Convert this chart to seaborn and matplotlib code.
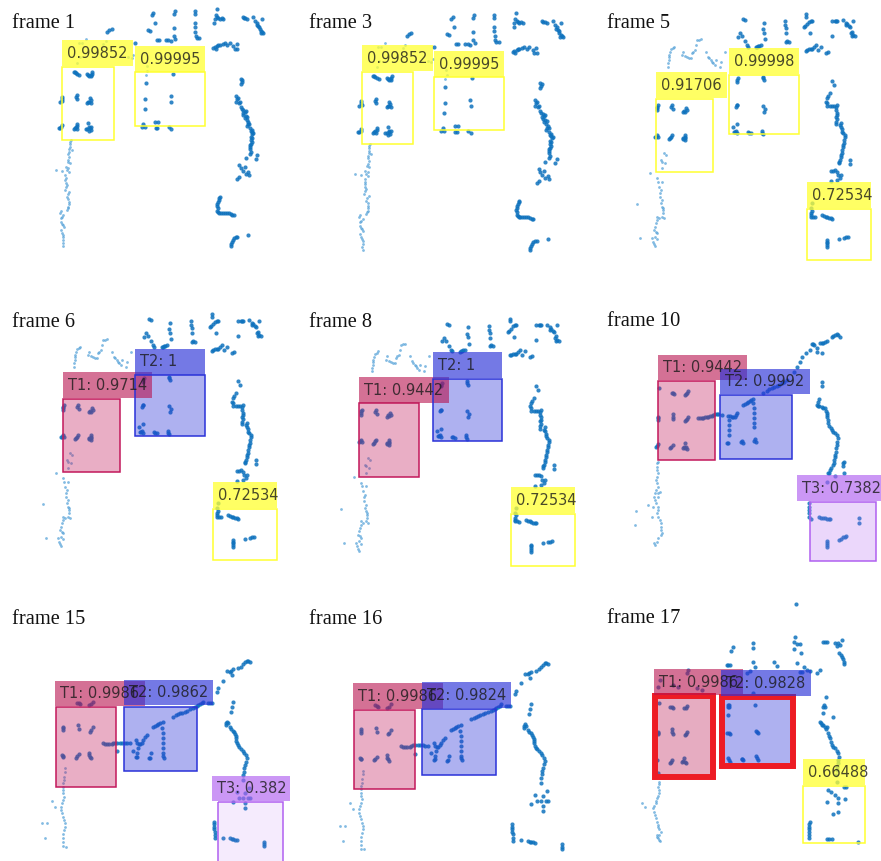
import matplotlib
matplotlib.use("Agg")
import matplotlib.pyplot as plt
from matplotlib.patches import Rectangle
import pandas as pd
import seaborn as sns

### Point clouds (units: 1/3 pixel inside each panel)
cloud_a_dark = [(460,38),(456,46),(525,33),(522,42),(584,32),(585,42),(650,26),(648,46),(645,58),(643,68),(655,55),(665,55),(670,56),
    (465,70),(522,85),(584,68),(585,82),(586,96),(588,108),(590,115),(598,115),(444,90),(450,93),(470,121),(476,121),(497,119),(505,120),(512,122),(522,108),(526,116),
    (728,52),(736,54),(742,56),(760,52),(766,62),(772,68),(786,58),(770,75),(778,82),(784,92),(790,100),(782,100),
    (645,140),(652,138),(660,135),(668,133),(675,130),(682,135),(690,130),(710,132),(705,148),(712,148),(648,146),
    (322,97),(328,91),(335,88),(405,130),
    (225,217),(232,223),(238,224),(265,225),(272,226),(277,215),(230,285),(231,298),(186,290),(187,303),(180,305),(265,305),(272,300),(262,308),
    (225,385),(232,378),(230,386),(262,388),(268,380),(272,390),(265,370),(180,384),(185,375),
    (518,222),(437,248),(436,297),(514,305),(512,287),(434,328),(430,372),(426,380),(434,380),(466,367),(475,366),(468,384),(472,384),(506,380),(514,386),
    (722,238),(727,240),(722,252),(708,288),(714,295),(708,305),(720,305),(722,322),(730,330),(738,332),(730,345),(742,350),(735,355),(745,365),(740,378),(750,385),(755,395),(760,398),(752,410),(755,425),(750,440),(752,455),(750,435),
    (772,465),(768,478),(738,475),(718,495),(722,505),(735,500),(745,515),(728,512),(738,522),(748,525),(718,530),(712,537),
    (660,590),(656,600),(652,612),(654,625),(655,637),(662,640),(668,640),(680,638),(686,640),(692,642),(702,646),
    (712,710),(702,715),(695,725),(692,738),(745,706),
    (222,215),(228,220),(262,222),(268,228),(276,222),(274,228),(228,292),(186,297),(270,295),(274,308),(268,305),(222,388),(228,382),(232,372),(258,388),(266,392),(270,385),(274,382),(184,380),(176,385),
    (725,245),(710,298),(716,310),(726,328),(734,335),(728,338),(738,348),(740,360),(748,372),(744,372),(752,392),(757,402),(755,415),(752,420),(753,432),(750,448),(749,462),(755,390),
    (658,595),(653,606),(651,618),(652,632),(658,640),(674,640),(697,645),(708,712),(698,720),(693,732),
    (652,52),(660,57),(775,78),(780,88),(787,96),(732,53),(655,135),(640,145),(700,138)]
cloud_a_light = [(258,118),(245,128),(237,130),(310,132),(318,122),(385,170),(395,175),(400,165),(240,170),(232,188),(440,198),(442,213),(437,225),
    (212,420),(210,432),(208,448),(205,462),(215,450),(205,480),(210,490),(198,500),(207,515),(196,525),(168,510),(185,513),(196,540),(200,555),(195,570),(208,575),(200,590),(207,605),(205,620),(200,630),
    (183,632),(190,645),(183,655),(185,672),(192,680),(183,690),(188,705),(190,720),(190,738),
    (210,425),(206,455),(208,470),(203,487),(205,505),(200,510),(198,533),(198,548),(197,562),(203,582),(205,598),(207,612),(203,625),(180,640),(186,650),(182,665),(188,676),(186,698),(190,712),(188,730),(210,440)]

cloud_b_dark = [(448,57),(452,60),(511,68),(573,64),(574,75),(575,85),(575,100),(636,42),(636,50),(655,62),(645,65),(638,72),(630,82),(648,98),
    (714,62),(722,62),(730,62),(748,60),(755,68),(778,62),(760,72),(768,82),(770,100),(775,108),(783,108),(715,107),
    (508,88),(510,98),(513,118),(580,122),(586,125),(575,125),(438,100),(432,110),(443,108),(453,123),(458,135),(463,140),(485,142),(492,138),(500,135),
    (635,152),(645,148),(655,147),(665,135),(672,150),(682,140),(695,158),(702,155),
    (190,320),(188,330),(234,315),(236,328),(270,332),(276,325),(268,336),(190,405),(182,412),(228,415),(235,405),(268,415),(272,405),(274,420),
    (432,235),(430,245),(506,230),(510,240),(428,315),(506,318),(512,328),(510,337),(418,380),(428,372),(422,395),(428,398),(465,398),(470,400),(503,392),(508,402),
    (715,243),(720,255),(708,280),(700,295),(698,310),(700,318),(715,318),(728,315),(725,330),(730,345),(728,358),(725,372),(740,368),(742,380),(745,395),(752,405),(750,420),(748,435),(745,450),(742,465),(738,480),(735,490),
    (767,480),(768,492),(712,512),(722,510),(728,515),(742,525),(738,535),(730,540),(710,543),
    (655,610),(652,625),(650,640),(656,650),(662,652),(685,645),(695,650),(705,655),(715,656),(700,720),(698,730),(700,742),(734,716),(750,713),(762,710),
    (188,325),(192,315),(232,322),(272,335),(278,330),(186,410),(192,412),(232,410),(225,418),(266,418),(272,412),(274,415),(430,240),(508,235),(430,315),(425,320),(420,395),(425,392),(505,398),(462,396),
    (703,288),(696,305),(708,318),(720,318),(727,322),(728,338),(727,350),(727,365),(738,375),(743,388),(748,400),(752,412),(750,428),(747,442),(744,458),(740,472),(736,485),(716,512),(733,525),
    (653,632),(650,645),(652,650),(690,648),(700,652),(710,655),(699,725),(699,736),(755,712),
    (650,62),(634,78),(725,62),(765,78),(773,95),(778,105),(640,150),(650,147),(660,142),(488,140),(495,137),(755,75)]
cloud_b_light = [(240,140),(232,148),(226,165),(224,180),(222,200),(268,155),(265,165),(278,172),(290,175),(295,160),(302,150),(305,135),(310,120),(320,118),
    (335,155),(342,170),(350,180),(358,190),(365,180),(362,195),(380,185),(378,200),(392,155),
    (210,460),(215,465),(205,485),(212,490),(200,480),(205,505),(190,535),(205,545),(195,560),(198,578),(205,600),(200,610),(208,625),(205,650),(190,650),(185,670),(180,690),(188,700),(175,715),(182,738),
    (168,518),(128,612),(138,715),(190,718),(207,630),(210,655),
    (192,545),(200,570),(198,590),(203,620),(207,640),(195,655),(188,660),(183,680),(185,695),(182,710),(178,725),(180,732),
    (236,144),(229,156),(225,172),(223,190),(272,168),(284,174),(298,155),(315,119),(346,175),(354,185)]

cloud_c_dark = [(750,110),(740,103),(730,108),(712,122),(700,128),(690,130),(680,145),(672,135),(665,133),(660,150),(648,158),(695,158),(680,155),(635,170),(630,185),(622,200),(612,215),
    (590,240),(582,245),(575,250),(567,254),(560,258),(552,262),(545,265),(537,268),(530,272),(520,280),
    (697,245),(696,258),(686,296),(680,315),(688,318),(695,322),(705,325),(710,340),(712,352),(715,370),(722,385),(730,395),(742,405),(742,425),(738,445),(735,465),(733,480),(728,495),(720,510),(715,518),
    (762,485),(758,498),(762,520),(735,528),(710,545),
    (657,610),(656,630),(658,650),(664,658),(688,652),(700,654),(712,656),(720,658),(806,655),(807,668),(712,722),(710,735),(712,742),(748,720),(760,712),(768,708),
    (208,265),(245,278),(252,282),(285,284),(295,272),(205,350),(203,360),(248,342),(250,358),(285,362),(295,352),(197,440),(205,432),(240,445),(248,435),(280,445),(285,430),(290,448),
    (325,355),(335,355),(345,352),(355,350),(365,347),(375,343),(385,343),(395,346),(415,347),(425,350),(435,350),(442,340),
    (460,315),(470,308),(480,302),(488,298),(490,310),(491,325),(491,340),(492,355),(492,370),(492,380),
    (418,360),(418,375),(417,390),(417,405),(415,430),(455,422),(458,428),(495,418),(498,425),
    (248,280),(288,282),(292,280),(205,355),(248,350),(288,360),(292,358),(200,438),(244,442),(283,440),(288,440),(285,445),(412,430),(452,425),(493,422),
    (330,355),(340,353),(350,351),(360,348),(370,345),(380,343),(420,349),(430,351),(438,345),(465,311),(475,305),(484,300),
    (683,305),(684,318),(700,325),(708,332),(712,345),(713,360),(718,378),(726,390),(736,400),(744,415),(741,435),(737,455),(734,472),(731,488),(724,503),(716,520),(758,490),
    (656,620),(657,640),(694,653),(706,655),(716,657),(711,728),(754,716),(764,710),
    (745,105),(735,104),(725,110),(705,125),(695,128),(668,133)]
cloud_c_light = [(203,485),(200,500),(203,520),(198,540),(205,560),(195,580),(210,575),(195,600),(205,620),(190,620),(200,640),(210,660),(212,680),(215,700),(205,715),(195,735),
    (138,632),(135,676),(175,615),(185,650),
    (200,490),(201,510),(202,530),(200,550),(197,570),(203,590),(198,610),(203,630),(205,650),(212,670),(213,690),(213,705),(200,725),(192,730),(205,580),(192,590)]

cloud_d_dark = [(750,215),(740,212),(730,222),(715,235),(700,238),(690,245),(680,243),(697,255),(668,272),(655,295),(650,305),(636,340),(625,340),(610,335),(600,343),(592,348),(585,352),(578,355),(570,358),(562,362),(555,365),(547,368),(540,370),(534,373),(528,375),(518,380),
    (488,397),(481,400),(475,402),(465,408),(458,412),
    (698,335),(696,350),(694,365),(680,395),(678,405),(690,412),(698,422),(705,432),(708,445),(710,460),(718,470),(728,482),(738,495),(738,515),(732,535),(730,555),(730,570),
    (712,607),(700,635),(735,610),(748,595),(750,625),(730,625),(718,625),(745,625),(735,640),(736,655),
    (642,695),(642,710),(644,725),(645,745),(668,743),(690,745),(700,748),(710,750),(793,755),(792,768),
    (232,338),(240,342),(268,345),(278,335),(190,410),(188,420),(235,405),(236,418),(270,425),(278,412),(185,495),(190,500),(228,503),(236,492),(268,495),(272,505),(268,488),
    (310,460),(320,463),(335,462),(345,458),(360,458),(375,458),(390,460),(350,483),(408,450),(412,460),(420,462),(430,450),(440,435),
    (415,475),(412,490),(408,502),(400,482),(487,415),(488,430),(488,445),(488,460),(488,475),(488,490),(492,503),(448,505),(453,490),
    (685,400),(694,417),(702,427),(707,438),(709,452),(713,465),(722,476),(733,488),(740,505),(736,525),(731,545),(679,400),
    (745,212),(735,216),(722,230),(693,242),(605,340),(630,340),(595,346),
    (315,462),(327,463),(340,460),(352,458),(367,458),(382,459),(416,462),(425,458),(435,442),(470,405),
    (236,340),(272,342),(189,415),(274,420),(188,498),(232,498),(270,500),(410,500),(450,503),(490,497),
    (642,702),(643,717),(644,735),(695,747),(705,749),(792,762)]
cloud_d_light = [(195,535),(192,560),(190,580),(188,600),(192,620),(185,640),(182,660),(190,680),(195,700),(192,720),(190,745),(188,768),(198,770),(155,632),(165,650),(125,700),(140,700),(135,745),
    (194,545),(193,570),(189,590),(190,610),(188,630),(183,650),(186,670),(193,690),(194,710),(190,732),(189,757)]

cloud_e_dark = [(617,43),(614,142),(612,155),(620,162),(630,162),(612,178),(632,188),(428,170),(424,183),(490,160),(490,175),(700,155),(712,155),(735,158),(742,168),(757,150),(750,165),(748,190),(755,200),(762,215),(763,222),
    (410,224),(420,225),(490,215),(495,232),(553,215),(560,228),(622,220),(642,232),(660,243),(630,245),(680,248),(690,240),
    (295,240),(290,250),(470,248),(480,244),(210,270),(205,290),(250,285),(265,290),(320,295),(335,300),(490,310),
    (207,338),(240,350),(250,353),(283,355),(292,348),(205,425),(203,432),(245,418),(248,432),(285,435),(290,425),(202,510),(240,518),(246,510),(275,515),(282,505),(287,520),(205,548),
    (416,345),(414,350),(496,345),(414,375),(412,430),(420,432),(497,422),(503,428),(415,505),(420,515),(455,508),(460,510),(497,498),(503,510),
    (708,320),(702,345),(706,352),(698,370),(730,380),(690,395),(695,405),(710,410),(715,430),(720,445),(725,465),(735,475),(745,490),(745,510),(742,530),(738,555),(740,575),
    (715,600),(722,605),(767,592),(762,590),(735,615),(745,625),(712,635),(765,628),(745,640),(745,665),(730,672),
    (660,695),(656,710),(656,725),(658,745),(712,746),(725,748),(805,755),
    (245,352),(288,353),(204,428),(246,425),(288,432),(243,515),(280,512),(285,515),(418,350),(416,430),(500,425),(418,510),(457,508),(500,505),(413,345),
    (692,400),(700,405),(708,418),(718,438),(722,455),(730,470),(740,483),(746,500),(744,520),(740,540),(700,350),(705,412),
    (658,702),(656,718),(657,735),(716,746),(706,155),(745,160),(752,195),(758,208),(415,224),(635,245),(650,240)]
cloud_e_light = [(208,575),(205,590),(208,610),(200,625),(197,640),(190,655),(195,675),(200,695),(205,712),(212,725),(205,745),(210,752),(155,640),(165,650),
    (207,582),(206,600),(203,618),(198,632),(193,648),(192,665),(197,685),(203,704),(208,718),(208,735),(207,750),(200,735),(202,742)]

# kind, box (x0, y0, x1, y1), label band (x0, y0, x1, y1), text
boxes_1 = [("Y", (187,200,342,420), (187,120,400,197), "0.99852"), ("Y", (405,217,615,377), (405,138,615,217), "0.99995")]
boxes_3 = [("Y", (194,215,348,433), (194,135,407,212), "0.99852"), ("Y", (412,232,622,391), (412,152,622,232), "0.99995")]
boxes_5 = [("Y", (187,296,356,515), (187,216,400,293), "0.91706"), ("Y", (404,224,614,402), (404,145,614,222), "0.99998"),
    ("Y", (640,626,832,781), (640,546,832,625), "0.72534")]
boxes_6 = [("T1", (188,296,359,517), (188,217,456,294), "T1: 0.9714"), ("T2", (405,224,615,407), (405,146,615,224), "T2: 1"),
    ("Y", (640,627,832,781), (640,547,832,625), "0.72534")]
boxes_8 = [("T1", (187,310,366,531), (187,231,456,308), "T1: 0.9442"), ("T2", (408,236,616,424), (408,156,616,234), "T2: 1"),
    ("Y", (642,641,835,797), (642,562,835,640), "0.72534")]
boxes_10 = [("T1", (203,242,374,481), (203,164,471,240), "T1: 0.9442"), ("T2", (391,286,605,477), (391,206,659,283), "T2: 0.9992"),
    ("T3", (661,605,857,782), (622,526,873,603), "T3: 0.7382")]
boxes_15 = [("T1", (167,352,349,590), (166,273,436,349), "T1: 0.9986"), ("T2", (373,350,590,544), (372,269,640,346), "T2: 0.9862"),
    ("T3low", (654,635,850,830), (635,557,875,633), "T3: 0.382")]
boxes_16 = [("T1", (170,360,355,597), (169,280,438,357), "T1: 0.9986"), ("T2", (376,356,597,554), (375,277,643,353), "T2: 0.9824")]
boxes_17 = [("T1x", (194,317,370,561), (192,238,460,315), "T1: 0.9986"), ("T2x", (395,320,608,529), (393,240,663,318), "T2: 0.9828"),
    ("Y", (640,587,825,760), (640,508,825,585), "0.66488")]

# name, panel left/top/width/height in pixels, title spot, points, shift of points, boxes
frames = [
    ("frame 1", (0,0,290,280), (35,85), cloud_a_dark, cloud_a_light, (0,0), boxes_1),
    ("frame 3", (297,0,290,280), (36,85), cloud_a_dark, cloud_a_light, (7,12), boxes_3),
    ("frame 5", (594,0,287,280), (38,85), cloud_b_dark, cloud_b_light, (0,0), boxes_5),
    ("frame 6", (0,300,290,280), (35,80), cloud_b_dark, cloud_b_light, (0,0), boxes_6),
    ("frame 8", (297,300,290,280), (36,80), cloud_b_dark, cloud_b_light, (3,14), boxes_8),
    ("frame 10", (590,300,291,280), (50,78), cloud_c_dark, cloud_c_light, (0,0), boxes_10),
    ("frame 15", (0,590,290,271), (35,103), cloud_d_dark, cloud_d_light, (0,0), boxes_15),
    ("frame 16", (297,590,290,271), (36,103), cloud_d_dark, cloud_d_light, (3,8), boxes_16),
    ("frame 17", (590,590,291,271), (50,100), cloud_e_dark, cloud_e_light, (0,0), boxes_17),
]

# edge colour, fill alpha, band colour, band alpha
estilos = {
    "Y": ("#ffff30", 0.0, "#ffff30", 0.75),
    "T1": ("#c2185b", 0.35, "#b8124f", 0.6),
    "T2": ("#2a32d8", 0.38, "#2a32d8", 0.65),
    "T3": ("#b060f0", 0.25, "#b060f0", 0.65),
    "T3low": ("#b060f0", 0.12, "#b060f0", 0.65),
    "T1x": ("#ed1c24", 0.35, "#b8124f", 0.6),
    "T2x": ("#ed1c24", 0.38, "#2a32d8", 0.65),
}
preenchimento = {"T1x": "#b8124f", "T2x": "#2a32d8"}

sns.set_theme(style="white")
plt.rcParams["font.family"] = ["DejaVu Sans"]

W, H = 881, 861
fig = plt.figure(figsize=(W / 100, H / 100), dpi=100, facecolor="white")

for nome, (esq, topo, larg, alt), (tx, ty), dark, light, (dx, dy), caixas in frames:
    ax = fig.add_axes([esq / W, 1 - (topo + alt) / H, larg / W, alt / H])
    escuro = pd.DataFrame(dark, columns=["x", "y"]) + (dx, dy)
    claro = pd.DataFrame(light, columns=["x", "y"]) + (dx, dy)
    sns.scatterplot(data=claro, x="x", y="y", s=4, color="#4f9ed6", alpha=0.7, linewidth=0, ax=ax, zorder=1)
    sns.scatterplot(data=escuro, x="x", y="y", s=9, color="#0f72bd", alpha=0.85, linewidth=0, ax=ax, zorder=1)
    ax.set_xlim(0, larg * 3)
    ax.set_ylim(alt * 3, 0)
    ax.set_axis_off()
    ax.text(tx, ty, nome, family="Liberation Serif", fontsize=14.7, color="#111111", va="baseline", ha="left")
    for tipo, (x0, y0, x1, y1), (bx0, by0, bx1, by1), texto in caixas:
        borda, alfa, banda, alfa_banda = estilos[tipo]
        grossa = tipo.endswith("x")
        cor_fundo = preenchimento.get(tipo, borda)
        if alfa > 0:
            ax.add_patch(Rectangle((x0, y0), x1 - x0, y1 - y0, facecolor=cor_fundo, edgecolor="none", alpha=alfa, zorder=2))
        ax.add_patch(Rectangle((x0, y0), x1 - x0, y1 - y0, fill=False, edgecolor=borda,
                               linewidth=4.3 if grossa else 1.1, zorder=3))
        ax.add_patch(Rectangle((bx0, by0), bx1 - bx0, by1 - by0, facecolor=banda, edgecolor="none", alpha=alfa_banda, zorder=3))
        ax.text(bx0 + 15, (by0 + by1) / 2 + 1, texto, fontsize=10.5, color="#1a1a1a", alpha=0.8, va="center", ha="left", zorder=4)

fig.savefig("out.png", dpi=100, facecolor="white")
